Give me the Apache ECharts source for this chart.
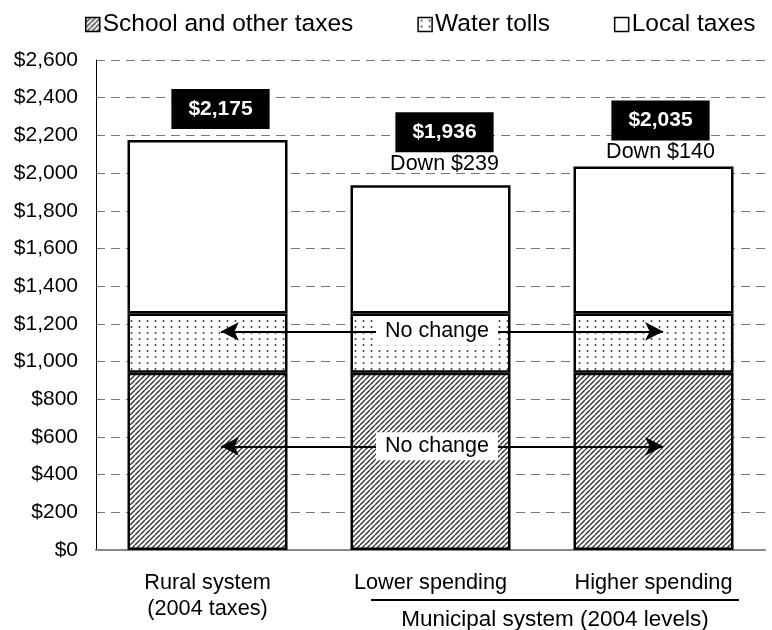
<!DOCTYPE html>
<html>
<head>
<meta charset="utf-8">
<script src="https://cdn.jsdelivr.net/npm/echarts@6/dist/echarts.min.js"></script>
<style>
html,body{margin:0;padding:0;background:#fff;}
#c{width:772px;height:630px;}
</style>
</head>
<body>
<div id="c"></div>
<script>
// ---- data ----
var categories = ['Rural system\n(2004 taxes)', 'Lower spending', 'Higher spending'];
var seriesNames = ['School and other taxes', 'Water tolls', 'Local taxes'];
var schoolTaxes = [940, 940, 940];
var waterTolls = [315, 315, 315];
var localTaxes = [920, 681, 780];
var yTicks = {min: 0, max: 2600, interval: 200};
var groupLabel = 'Municipal system (2004 levels)';
var noChangeText = 'No change';
var arrowLevels = [1160, 550];

var totals = categories.map(function (c, i) { return schoolTaxes[i] + waterTolls[i] + localTaxes[i]; });

function fmtMoney(v) {
  return '$' + String(Math.round(v)).replace(/\B(?=(\d{3})+(?!\d))/g, ',');
}

// ---- patterns ----
function hatchPattern() {
  var s = 5;
  var cv = document.createElement('canvas');
  cv.width = s; cv.height = s;
  var ctx = cv.getContext('2d');
  ctx.fillStyle = '#fff'; ctx.fillRect(0, 0, s, s);
  ctx.strokeStyle = '#333'; ctx.lineWidth = 1.4;
  for (var k = -1; k <= 1; k++) {
    ctx.beginPath();
    ctx.moveTo(k * s, s);
    ctx.lineTo(k * s + s, 0);
    ctx.stroke();
  }
  return {image: cv, repeat: 'repeat'};
}
function dotPattern() {
  var w = 8, h = 6;
  var cv = document.createElement('canvas');
  cv.width = w; cv.height = h;
  var ctx = cv.getContext('2d');
  ctx.fillStyle = '#fff'; ctx.fillRect(0, 0, w, h);
  ctx.fillStyle = '#444';
  ctx.beginPath(); ctx.arc(3.5, 3, 1.0, 0, Math.PI * 2); ctx.fill();
  return {image: cv, repeat: 'repeat'};
}

var FONT = '"Liberation Sans", Arial, Helvetica, sans-serif';
var chart = echarts.init(document.getElementById('c'), null, {renderer: 'canvas'});

var barStyle = function (fill) {
  return {color: fill, borderColor: '#000', borderWidth: 2.5};
};

var labelOffsets = [[13, -1], [14, 1], [7, 8]];

var localData = localTaxes.map(function (v, i) {
  return {value: v, label: {offset: labelOffsets[i]}};
});

var option = {
  animation: false,
  backgroundColor: '#fff',
  textStyle: {fontFamily: FONT, color: '#000'},
  legend: {
    data: seriesNames,
    top: 7,
    left: 80,
    itemWidth: 14,
    itemHeight: 14,
    itemGap: 64,
    icon: 'rect',
    itemStyle: {borderColor: '#000', borderWidth: 1.5},
    textStyle: {fontFamily: FONT, fontSize: 24.5, color: '#000', padding: [0, 0, 0, -2]}
  },
  grid: {left: 96, right: 7, top: 60, bottom: 80, containLabel: false},
  xAxis: [{
    type: 'category',
    data: categories,
    axisLine: {lineStyle: {color: '#888', width: 2}},
    axisTick: {show: false},
    axisLabel: {fontFamily: FONT, fontSize: 21.7, color: '#000', lineHeight: 26, margin: 20}
  }, {
    type: 'value', min: 0, max: 3, show: false
  }],
  yAxis: {
    type: 'value',
    min: yTicks.min, max: yTicks.max, interval: yTicks.interval,
    axisLine: {show: true, lineStyle: {color: '#000', width: 1}},
    axisTick: {show: false},
    axisLabel: {fontFamily: FONT, fontSize: 21, color: '#000', margin: 18, formatter: fmtMoney},
    splitLine: {lineStyle: {color: '#777', width: 1, type: [9, 6]}}
  },
  series: [
    {
      name: seriesNames[0], type: 'bar', stack: 't', barWidth: 160,
      data: schoolTaxes, itemStyle: barStyle(hatchPattern())
    },
    {
      name: seriesNames[1], type: 'bar', stack: 't', barWidth: 160,
      data: waterTolls, itemStyle: barStyle(dotPattern())
    },
    {
      name: seriesNames[2], type: 'bar', stack: 't', barWidth: 160,
      data: localData, itemStyle: barStyle('#fff'),
      label: {
        show: true, position: 'top', distance: 10,
        formatter: function (p) {
          var i = p.dataIndex;
          var txt = '{box|' + fmtMoney(totals[i]) + '}';
          if (i > 0) txt += '\n{down|Down ' + fmtMoney(totals[0] - totals[i]) + '}';
          return txt;
        },
        rich: {
          box: {backgroundColor: '#000', color: '#fff', fontWeight: 'bold', fontSize: 21, lineHeight: 40, height: 40, fontFamily: FONT, padding: [0, 17]},
          down: {color: '#000', fontSize: 21.5, lineHeight: 24, fontFamily: FONT}
        }
      }
    },
    {
      type: 'line', xAxisIndex: 1, yAxisIndex: 0, data: [], silent: true,
      markLine: {
        silent: true,
        symbol: ['arrow', 'arrow'],
        symbolSize: [14, 18],
        lineStyle: {color: '#000', width: 2.2, type: 'solid'},
        label: {
          show: true, position: 'insideMiddle', formatter: noChangeText,
          backgroundColor: '#fff', padding: [2, 9], color: '#000',
          fontFamily: FONT, fontSize: 21.5, lineHeight: 24, offset: [-5, 0]
        },
        emphasis: {disabled: true},
        data: arrowLevels.map(function (y) {
          return [{coord: [0.56, y]}, {coord: [2.543, y]}];
        })
      }
    }
  ],
  graphic: [
    {type: 'line', shape: {x1: 371, y1: 600, x2: 739, y2: 600}, style: {stroke: '#000', lineWidth: 2}},
    {type: 'text', x: 555, y: 620, style: {text: groupLabel, font: '22.5px ' + FONT, fill: '#000', textAlign: 'center', textVerticalAlign: 'middle'}}
  ]
};
chart.setOption(option);
</script>
</body>
</html>
